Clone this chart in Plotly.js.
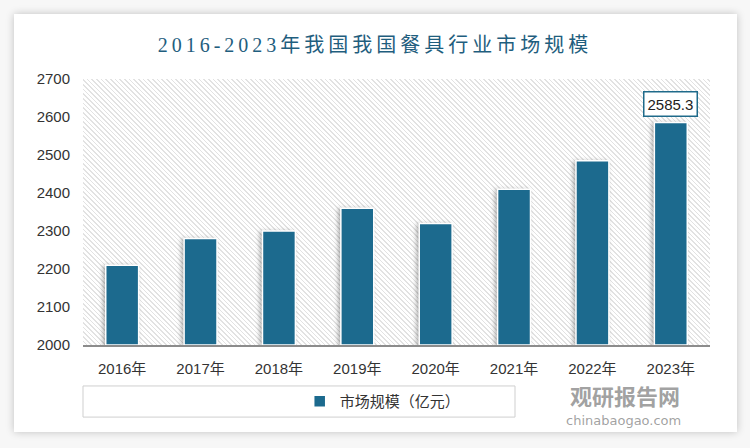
<!DOCTYPE html>
<html>
<head>
<meta charset="utf-8">
<script src="https://cdn.plot.ly/plotly-3.0.1.min.js"></script>
<style>
  html, body { margin: 0; padding: 0; background: #ffffff; }
  #wrap { position: relative; width: 750px; height: 448px; overflow: hidden; background: #f7f7f7; }
  #card { position: absolute; left: 14px; top: 14px; width: 723px; height: 418px; background: #ffffff;
          box-shadow: 0 0 8px rgba(0,0,0,0.22); }
  #hatch { position: absolute; left: 83px; top: 79px; width: 627px; height: 266px;
           background: repeating-linear-gradient(45deg, #ffffff 0px, #ffffff 2.2px, #e2e2e2 2.2px, #e2e2e2 3.3px); }
  #chart { position: absolute; left: 0; top: 0; width: 750px; height: 448px; }
  .gtitle { letter-spacing: 4px; }
  .trace.bars .point path { filter: drop-shadow(-2px 1px 2px rgba(0,0,0,0.3)); }
</style>
</head>
<body>
<div id="wrap">
  <div id="card"></div>
  <div id="hatch"></div>
  <div id="chart"></div>
</div>
<script>
const categories = ['2016年', '2017年', '2018年', '2019年', '2020年', '2021年', '2022年', '2023年'];
const marketSize = [2210, 2280, 2300, 2360, 2320, 2410, 2485, 2585.3];
const seriesName = '市场规模（亿元）';
const yTicks = [2000, 2100, 2200, 2300, 2400, 2500, 2600, 2700];
const labelIndex = 7;

const cjk = '"Noto Sans CJK SC", "Liberation Sans", sans-serif';
const num = '"Liberation Sans", "Noto Sans CJK SC", sans-serif';

const trace = {
  type: 'bar',
  x: categories,
  y: marketSize.map(v => v - 2000),
  base: 2000,
  name: seriesName,
  width: 0.42,
  marker: { color: '#1c6a8e', line: { color: '#ffffff', width: 1.5 } },
  hoverinfo: 'skip'
};

const layout = {
  width: 750, height: 448,
  margin: { l: 83, r: 40, t: 79, b: 103 },
  paper_bgcolor: 'rgba(0,0,0,0)',
  plot_bgcolor: 'rgba(0,0,0,0)',
  title: {
    text: '2016-2023年我国我国餐具行业市场规模',
    x: 0.5, xanchor: 'center', y: 0.9, yanchor: 'middle', yref: 'container',
    font: { family: '"Liberation Serif", "Noto Sans CJK SC", serif', size: 20, color: '#1f5e7e' }
  },
  xaxis: {
    type: 'category',
    showgrid: false,
    showline: true, linecolor: '#8c8c8c', linewidth: 1.5,
    ticks: '',
    ticklabelstandoff: 9,
    tickfont: { family: num, size: 15, color: '#333333' },
    fixedrange: true
  },
  yaxis: {
    range: [2000, 2700],
    tickvals: yTicks,
    ticktext: yTicks.map(String),
    showgrid: false, zeroline: false, showline: false,
    ticks: '',
    ticklabelstandoff: 12,
    tickfont: { family: num, size: 15, color: '#333333' },
    fixedrange: true
  },
  showlegend: true,
  legend: {
    orientation: 'h',
    x: 0.478, xanchor: 'center',
    y: -0.212, yanchor: 'middle',
    font: { family: cjk, size: 15, color: '#333333' },
    bgcolor: 'rgba(0,0,0,0)'
  },
  shapes: [
    { type: 'rect', xref: 'paper', yref: 'paper', x0: 0, x1: 0.689, y0: -0.154, y1: -0.271,
      line: { color: '#cfcfcf', width: 1 }, fillcolor: 'rgba(0,0,0,0)', layer: 'below' }
  ],
  annotations: [
    {
      x: categories[labelIndex], y: marketSize[labelIndex], xref: 'x', yref: 'y',
      text: String(marketSize[labelIndex]), showarrow: false,
      yanchor: 'bottom', yshift: 6,
      bgcolor: '#ffffff', bordercolor: '#1f6a8a', borderwidth: 1.5, borderpad: 3,
      font: { family: num, size: 15, color: '#222222' }
    },
    {
      x: 625, y: 395, xref: 'paper', yref: 'paper', text: '<b>观研报告网</b>', showarrow: false,
      xanchor: 'center', yanchor: 'middle',
      font: { family: cjk, size: 22, color: 'rgba(120,120,120,0.7)' }
    },
    {
      x: 623, y: 420, xref: 'paper', yref: 'paper', text: 'chinabaogao.com', showarrow: false,
      xanchor: 'center', yanchor: 'middle',
      font: { family: '"DejaVu Sans", sans-serif', size: 13, color: 'rgba(120,120,120,0.7)' }
    }
  ]
};

// convert watermark pixel positions to paper coords
const pl = 83, pw = 627, pt = 79, ph = 266;
layout.annotations.slice(1).forEach(a => {
  a.x = (a.x - pl) / pw;
  a.y = (pt + ph - a.y) / ph;
});

Plotly.newPlot('chart', [trace], layout, { displayModeBar: false, staticPlot: true });
</script>
</body>
</html>
